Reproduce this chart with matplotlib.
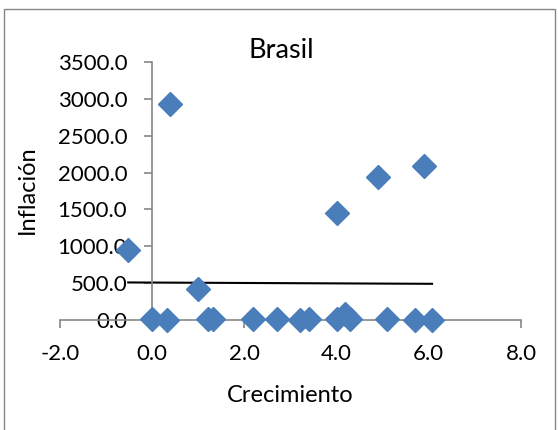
import numpy as np
import matplotlib
matplotlib.use("Agg")
import matplotlib.pyplot as plt
from matplotlib.patches import Rectangle

plt.rcParams['font.family'] = ['Lato', 'DejaVu Sans']

# crecimiento (%) vs inflacion (%) Brasil
crec = [-0.52, 0.39, 0.99, 4.0, 4.9, 5.89, 0.0, 0.32, 1.2, 1.31, 2.19, 2.7,
        3.2, 3.4, 4.01, 4.18, 4.3, 5.09, 5.71, 6.07]
infl = [955, 2936, 418, 1450, 1945, 2095, 8, 6, 10, 12, 7, 9,
        6, 8, 9, 85, 15, 7, 5, 6]
xticks = [-2, 0, 2, 4, 6, 8]
yticks = [0, 500, 1000, 1500, 2000, 2500, 3000, 3500]

gris = '#868686'
azul = '#4A7EBB'

fig = plt.figure(figsize=(5.58, 4.30), dpi=100)
ax = fig.add_axes([60/558, 1-320/430, (521-60)/558, (320-62)/430])

x = np.array(crec); y = np.array(infl)
ax.plot(x, y, 'D', ms=12, color=azul, mec=azul, clip_on=False, zorder=3)

# linea de tendencia lineal
m, b = np.polyfit(x, y, 1)
xt = np.array([x.min(), x.max()])
ax.plot(xt, m*xt + b, color='black', lw=1.5, zorder=2)

ax.set_xlim(-2, 8)
ax.set_ylim(0, 3500)
ax.set_xticks(xticks)
ax.set_yticks(yticks)
ax.set_xticklabels(['%.1f' % v for v in xticks])
ax.set_yticklabels(['%.1f' % v for v in yticks])

for s in ['top', 'right']:
    ax.spines[s].set_visible(False)
ax.spines['left'].set_position(('data', 0))
ax.spines['left'].set_color(gris)
ax.spines['bottom'].set_color(gris)
ax.spines['left'].set_linewidth(1.2)
ax.spines['bottom'].set_linewidth(1.2)
ax.tick_params(axis='both', colors=gris, labelcolor='black', length=6, width=1.2,
               labelsize=16)
ax.tick_params(axis='y', pad=12)
ax.tick_params(axis='x', pad=11)
ax.patch.set_visible(False)

fig.text(281/558, 1-50/430, 'Brasil', fontsize=19.5, ha='center', va='center')
fig.text(290/558, 1-395/430, 'Crecimiento', fontsize=17, ha='center', va='center')
fig.text(27/558, 1-190/430, 'Inflación', fontsize=17, ha='center', va='center',
         rotation=90)

fig.patches.append(Rectangle((3.5/558, -0.1), (555-3.5)/558, 1.1 - 9/430,
                             transform=fig.transFigure, fill=False, ec=gris, lw=1))

fig.savefig('out.png', dpi=100)
